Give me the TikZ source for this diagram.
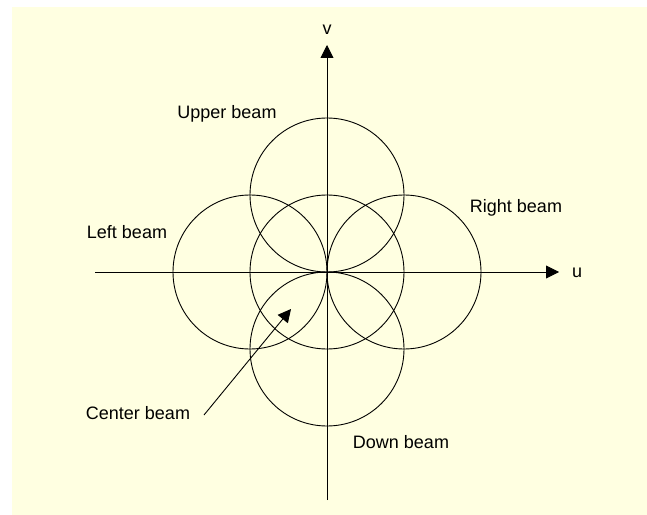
\documentclass[tikz,border=0pt]{standalone}
\usepackage{fontspec}
\setmainfont{Liberation Sans}
\usetikzlibrary{arrows.meta}
\definecolor{bgyellow}{HTML}{FFFFE1}
\begin{document}
\begin{tikzpicture}[x=1bp,y=-1bp,
  ln/.style={line width=0.9bp, black},
  beam/.style={ln},
  lbl/.style={inner sep=0pt, font=\fontsize{18bp}{20bp}\selectfont},
  tip/.style={-{Triangle[length=13bp,width=13bp]}}]
\useasboundingbox (0,0) rectangle (647,515);
\fill[white] (0,0) rectangle (647,515);
\fill[bgyellow] (12,7) rectangle (647,515);
% axes
\coordinate (O) at (327,272);
\coordinate (ul) at (95,272);
\coordinate (ur) at (559,272);
\coordinate (vb) at (327,500);
\coordinate (vt) at (327,45);
\draw[ln,tip] (ul) -- (ur);
\draw[ln,tip] (vb) -- (vt);
\node[lbl] (u) at (577,273) {u};
\node[lbl] (v) at (327,30) {v};
% beams
\draw[beam] (O) circle[radius=77];
\draw[beam] (327,195) circle[radius=77];
\draw[beam] (327,349) circle[radius=77];
\draw[beam] (250,272) circle[radius=77];
\draw[beam] (404,272) circle[radius=77];
% labels
\node[lbl] (upper) at (227,114) {Upper beam};
\node[lbl] (left) at (127,232) {Left beam};
\node[lbl] (right) at (516,208) {Right beam};
\node[lbl] (center) at (138,413) {Center beam};
\node[lbl] (down) at (401,442) {Down beam};
\coordinate (ctip) at (291,309);
\draw[ln,tip] (204,415) -- (ctip);
\end{tikzpicture}
\end{document}
